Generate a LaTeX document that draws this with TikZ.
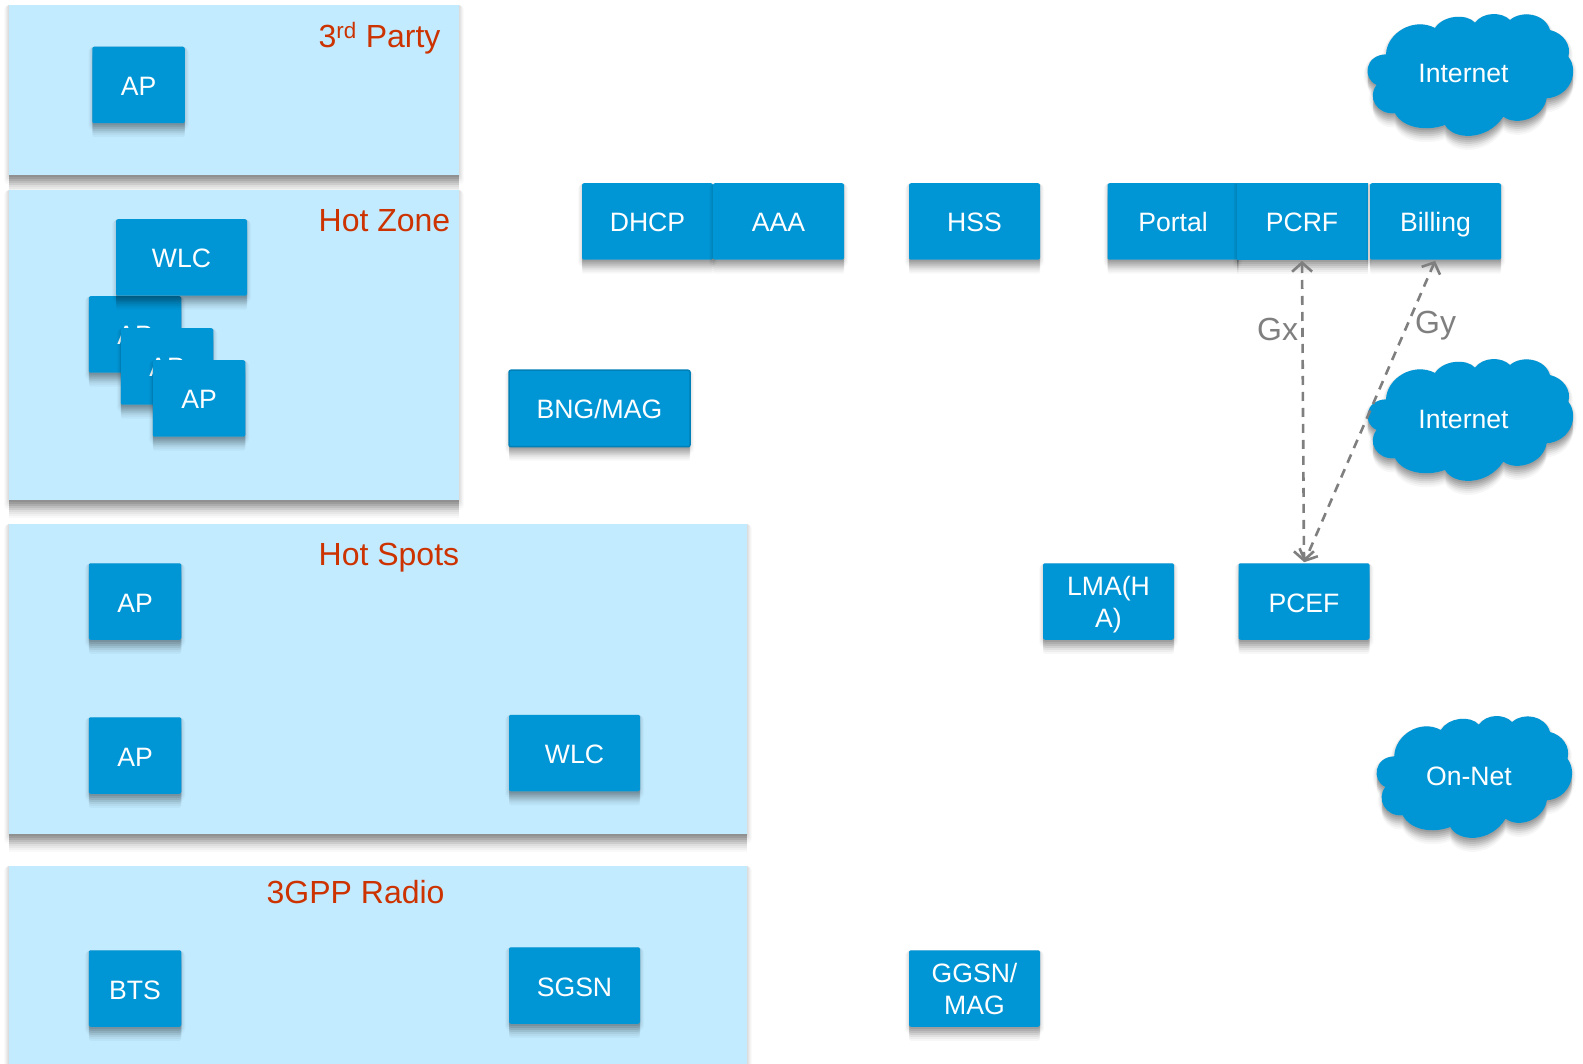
\documentclass[tikz,border=0pt]{standalone}
\usepackage{fontspec}
\setmainfont{Liberation Sans}
\usetikzlibrary{arrows.meta}
\definecolor{boxblue}{HTML}{0096D6}
\definecolor{panelblue}{HTML}{C2EBFF}
\definecolor{labelred}{HTML}{CC3300}
\definecolor{linkgray}{HTML}{7F7F7F}
\tikzset{
  ring/.style 2 args={preaction={draw=black,fill=none,line join=round,line width=2*#1,opacity=#2,transform canvas={yshift=-#1}}},
  drop/.style 2 args={preaction={draw=none,fill=black,opacity=#2,transform canvas={yshift=-#1}}},
  softshadow/.style={drop={14pt}{.03},drop={12pt}{.04},drop={10pt}{.05},drop={8pt}{.05},drop={6pt}{.05},drop={4pt}{.05},drop={2pt}{.05},
    ring={4pt}{.02},ring={3pt}{.03},ring={2pt}{.03},ring={1pt}{.03}},
  panel/.style={fill=panelblue,draw=none,drop={18pt}{.025},drop={16pt}{.03},drop={14pt}{.04},drop={12pt}{.04},drop={10pt}{.05},drop={8pt}{.05},drop={6pt}{.05},drop={4pt}{.05},drop={2pt}{.05},
    ring={5pt}{.02},ring={4pt}{.025},ring={3pt}{.03},ring={2pt}{.03},ring={1pt}{.03}},
  block/.style={fill=boxblue,draw=none,rounded corners=2pt,softshadow,text=white,inner sep=0pt,align=center,text depth=0pt,
    font=\fontsize{26.6}{32}\selectfont,execute at begin node={\rule{0pt}{21pt}}},
  twoline/.style={execute at begin node={\rule{0pt}{25pt}}},
  apbox/.style={block,minimum width=92.5pt,minimum height=76.5pt},
  widebox/.style={block,minimum width=131pt,minimum height=76.5pt},
  region/.style={text=labelred,font=\fontsize{32}{36}\selectfont,inner sep=0pt,anchor=base west},
  link/.style={draw=linkgray,line width=2.6pt,dash pattern=on 9pt off 7pt,{Straight Barb[length=9pt,width=20pt,line width=2.6pt]}-{Straight Barb[length=9pt,width=20pt,line width=2.6pt]},shorten <=1pt,shorten >=1pt},
  linklabel/.style={text=linkgray,font=\fontsize{32}{36}\selectfont,inner sep=0pt,anchor=base west},
  cloudshape/.style={fill=boxblue,draw=none,softshadow},
  cloudtext/.style={text=white,inner sep=0pt,text depth=0pt,font=\fontsize{26.6}{32}\selectfont}
}
\newcommand{\cloudoutline}{%
  (108,163) .. controls (110,100) and (190,50) .. (255,84)
  .. controls (280,45) and (350,40) .. (375,68)
  .. controls (400,35) and (455,35) .. (480,60)
  .. controls (515,30) and (585,40) .. (600,90)
  .. controls (640,100) and (665,135) .. (655,170)
  .. controls (690,215) and (660,290) .. (590,295)
  .. controls (580,355) and (500,380) .. (460,350)
  .. controls (410,425) and (310,420) .. (285,375)
  .. controls (230,395) and (160,385) .. (135,340)
  .. controls (80,345) and (50,290) .. (80,255)
  .. controls (35,235) and (45,165) .. (108,163) -- cycle}
\begin{document}
\begin{tikzpicture}[x=1pt,y=-1pt]
\useasboundingbox (0,0) rectangle (1583,1064);
\fill[white] (0,0) rectangle (1583,1064);

% regions
\path[panel] (9,5) rectangle (459,175);
\path[panel] (9,190) rectangle (459,500);
\path[panel] (9,524) rectangle (747,834);
\path[panel] (9,866) rectangle (747,1080);
\node[region] (l3rd) at (318.5,48) {3\textsuperscript{rd} Party};
\node[region] (lzone) at (318.5,232) {Hot Zone};
\node[region] (lspots) at (318.5,565) {Hot Spots};
\node[region] (lradio) at (266.5,903) {3GPP Radio};

% 3rd party
\node[apbox] (ap1) at (138.5,85) {AP};
% hot zone
\node[apbox] (ap2) at (135,334.5) {AP};
\node[apbox] (ap3) at (167,366.5) {AP};
\node[apbox] (ap4) at (199,398.5) {AP};
\node[widebox] (wlc1) at (181.5,257.5) {WLC};
% hot spots
\node[apbox] (ap5) at (135,601.5) {AP};
\node[apbox] (ap6) at (135,755.5) {AP};
\node[widebox] (wlc2) at (574.5,753) {WLC};
% radio
\node[apbox] (bts) at (135,988.5) {BTS};
\node[widebox] (sgsn) at (574.5,985.5) {SGSN};
% core
\node[widebox] (dhcp) at (647.5,221.5) {DHCP};
\node[widebox] (aaa) at (778.5,221.5) {AAA};
\node[widebox] (hss) at (974.5,221.5) {HSS};
\node[widebox] (portal) at (1173,221.5) {Portal};
\node[widebox,rounded corners=0pt] (pcrf) at (1302,221.5) {PCRF};
\node[widebox] (billing) at (1435.5,221.5) {Billing};
\node[block,minimum width=181pt,minimum height=76.5pt,draw=boxblue!85!black,line width=1.5pt] (bng) at (599.5,408.5) {BNG/MAG};
\node[widebox,twoline] (lma) at (1108.5,601.5) {LMA(H\\A)};
\node[widebox] (pcef) at (1304,601.5) {PCEF};
\node[widebox,twoline] (ggsn) at (974.5,988.5) {GGSN/\\MAG};

% clouds
\begin{scope}[shift={(1350,0)},x=0.3333pt,y=-0.3333pt]
  \path[cloudshape] \cloudoutline;
\end{scope}
\begin{scope}[shift={(1350,345)},x=0.3333pt,y=-0.3333pt]
  \path[cloudshape] \cloudoutline;
\end{scope}
\begin{scope}[shift={(1360,702)},x=0.3167pt,y=-0.3333pt]
  \path[cloudshape] \cloudoutline;
\end{scope}
\node[cloudtext] (cloud1) at (1463.5,73) {Internet};
\node[cloudtext] (cloud2) at (1463.5,419) {Internet};
\node[cloudtext] (cloud3) at (1469,776) {On-Net};

% interfaces
\draw[link] (pcrf.south) -- (pcef.north);
\draw[link] (billing.south) -- (pcef.north);
\node[linklabel] (gx) at (1257,340.5) {Gx};
\node[linklabel] (gy) at (1415,334) {Gy};
\end{tikzpicture}
\end{document}
